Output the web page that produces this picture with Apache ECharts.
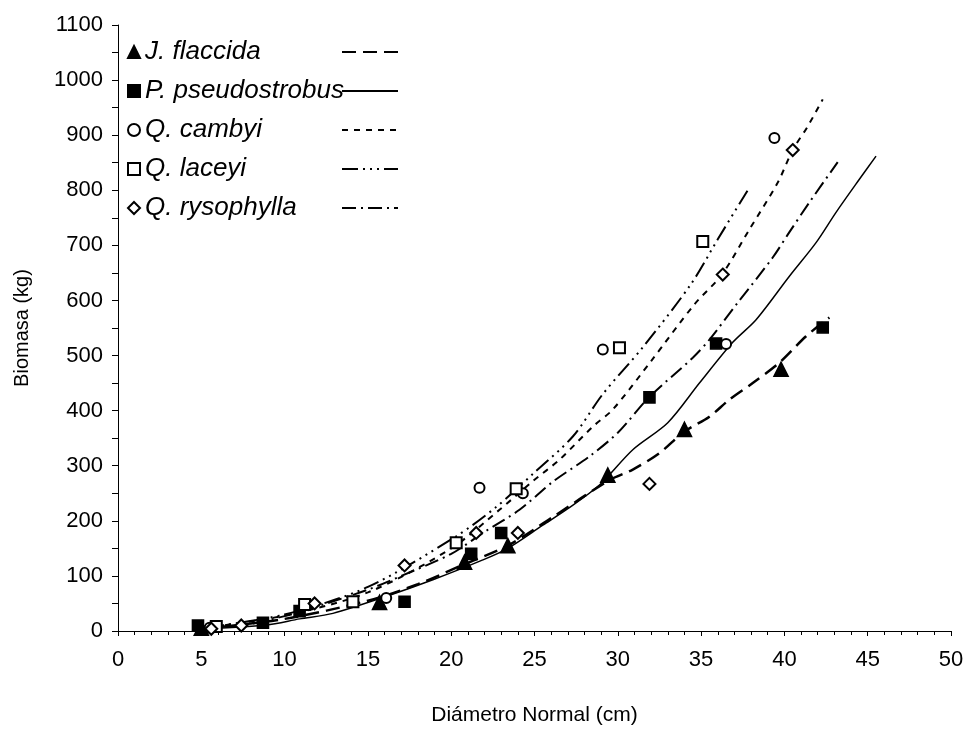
<!DOCTYPE html>
<html>
<head>
<meta charset="utf-8">
<script src="https://cdn.jsdelivr.net/npm/echarts@6/dist/echarts.min.js"></script>
<style>
  html, body { margin: 0; padding: 0; background: #fff; }
  #container { width: 969px; height: 755px; }
</style>
</head>
<body>
<div id="container"></div>
<script>
// species names, as in the legend
const species = ['J. flaccida', 'P. pseudostrobus', 'Q. cambyi', 'Q. laceyi', 'Q. rysophylla'];

// observed points [diameter cm, biomass kg]
const jFlaccidaPts = [[5.0, 5], [15.7, 52], [20.8, 125], [23.4, 155], [29.4, 283], [34.0, 366], [39.8, 475]];
const pPseudoPts   = [[4.8, 10], [8.7, 15], [10.9, 36], [17.2, 53], [21.2, 140], [23.0, 178], [31.9, 424], [35.9, 522], [42.3, 551]];
const qCambyiPts   = [[5.5, 6], [16.1, 60], [21.7, 260], [24.3, 250], [29.1, 511], [36.5, 521], [39.4, 895]];
const qLaceyiPts   = [[5.9, 8], [11.2, 48], [14.1, 53], [20.3, 160], [23.9, 258], [30.1, 514], [35.1, 707]];
const qRysoPts     = [[5.6, 4], [7.4, 10], [11.8, 50], [17.2, 119], [21.5, 178], [24.0, 178], [31.9, 267], [36.3, 647], [40.5, 873]];

// fitted curves
const jFlaccidaFit = [[5, 4], [10, 22], [15, 55], [18, 85], [20.7, 120], [23.4, 155], [26, 205], [29.5, 274], [30.9, 293], [32.5, 323], [34, 362], [35.5, 389], [36.7, 420], [38.1, 450], [39.7, 487], [41.3, 535], [42.7, 569]];
const pPseudoFit   = [[5, 4], [8.9, 11], [10.9, 22], [12.9, 32], [16.3, 65], [18.9, 93], [21.9, 129], [23.4, 150], [25.5, 192], [27, 222], [28.9, 265], [30.9, 329], [33, 378], [34.9, 450], [36.9, 524], [38.3, 565], [40.3, 644], [41.9, 705], [43.1, 760], [44.5, 820], [45.5, 862]];
const qCambyiFit   = [[5, 5], [10, 28], [15, 70], [20, 150], [22.9, 220], [24.9, 272], [26.5, 311], [28.5, 371], [29.7, 402], [32, 490], [34.6, 593], [36.25, 647], [37.9, 729], [39.6, 814], [40.5, 873], [41.4, 916], [42.3, 965]];
const qLaceyiFit   = [[5, 5], [10, 30], [15, 80], [20.3, 172], [22.7, 225], [24.9, 285], [27.3, 353], [29.1, 430], [31.5, 515], [34.4, 630], [36, 711], [37.8, 800]];
const qRysoFit     = [[5, 5], [7.4, 10], [10, 27], [12, 45], [15, 75], [17, 100], [20, 140], [22, 180], [24.1, 220], [26.1, 271], [28.3, 317], [30, 360], [31.9, 425], [34.5, 496], [35.5, 529], [37.2, 596], [39.3, 678], [40.3, 724], [41.5, 778], [43.2, 851]];

const pointSets = [jFlaccidaPts, pPseudoPts, qCambyiPts, qLaceyiPts, qRysoPts];
const fitSets   = [jFlaccidaFit, pPseudoFit, qCambyiFit, qLaceyiFit, qRysoFit];

const symbols     = ['triangle', 'rect', 'emptyCircle', 'emptyRect', 'emptyDiamond'];
const symbolSizes = [14, 11, 10, 11, 12];
const dashes = [
    [14, 7],
    'solid',
    [6, 6],
    [16, 5, 2, 5, 2, 5, 2, 5],
    [14, 5, 2, 5]
];
const widths = [2.5, 1.5, 2, 2, 2];

const FONT = 'Liberation Sans, Arial, sans-serif';

let series = [];
species.forEach(function (name, i) {
    series.push({
        name: name,
        type: 'scatter',
        data: pointSets[i],
        symbol: symbols[i],
        symbolSize: symbolSizes[i],
        itemStyle: { color: '#000', borderColor: '#000', borderWidth: 1.6, opacity: 1 },
        z: 5
    });
    series.push({
        name: name + ' ',
        type: 'line',
        data: fitSets[i],
        smooth: 0.3,
        showSymbol: false,
        symbol: 'none',
        lineStyle: { color: '#000', width: widths[i], type: dashes[i] },
        itemStyle: { color: '#000' },
        z: 3
    });
});

let option = {
    backgroundColor: '#fff',
    animation: false,
    grid: { left: 118, right: 18, top: 25, bottom: 124, containLabel: false },
    legend: [
        {
            data: species,
            orient: 'vertical',
            left: 122,
            top: 34,
            itemWidth: 12,
            itemHeight: 12,
            itemGap: 13,
            selectedMode: false,
            textStyle: { fontFamily: FONT, fontSize: 26, fontStyle: 'italic', color: '#000' }
        },
        {
            data: species.map(function (s) { return s + ' '; }),
            orient: 'vertical',
            left: 336,
            top: 34,
            itemWidth: 56,
            itemHeight: 12,
            itemGap: 13,
            selectedMode: false,
            itemStyle: { opacity: 0 },
            formatter: function () { return ' '; },
            textStyle: { fontFamily: FONT, fontSize: 26 }
        }
    ],
    xAxis: {
        type: 'value',
        min: 0,
        max: 50,
        interval: 5,
        name: 'Diámetro Normal (cm)',
        nameLocation: 'middle',
        nameGap: 74,
        nameTextStyle: { fontFamily: FONT, fontSize: 21, color: '#000' },
        axisLine: { lineStyle: { color: '#000', width: 1 } },
        axisTick: { length: 5, lineStyle: { color: '#000' } },
        minorTick: { show: true, splitNumber: 5, length: 4, lineStyle: { color: '#000' } },
        splitLine: { show: false },
        axisLabel: { fontFamily: FONT, fontSize: 22, color: '#000', margin: 18 }
    },
    yAxis: {
        type: 'value',
        min: 0,
        max: 1100,
        interval: 100,
        name: 'Biomasa (kg)',
        nameLocation: 'middle',
        nameGap: 86,
        nameTextStyle: { fontFamily: FONT, fontSize: 20, color: '#000' },
        axisLine: { show: true, lineStyle: { color: '#000', width: 1 } },
        axisTick: { show: true, length: 6, lineStyle: { color: '#000' } },
        minorTick: { show: true, splitNumber: 2, length: 6, lineStyle: { color: '#000' } },
        splitLine: { show: false },
        axisLabel: {
            fontFamily: FONT, fontSize: 22, color: '#000', margin: 15,
            formatter: function (v) { return String(v); }
        }
    },
    series: series
};

let chrt = echarts.init(document.getElementById('container'));
chrt.setOption(option);
</script>
</body>
</html>
